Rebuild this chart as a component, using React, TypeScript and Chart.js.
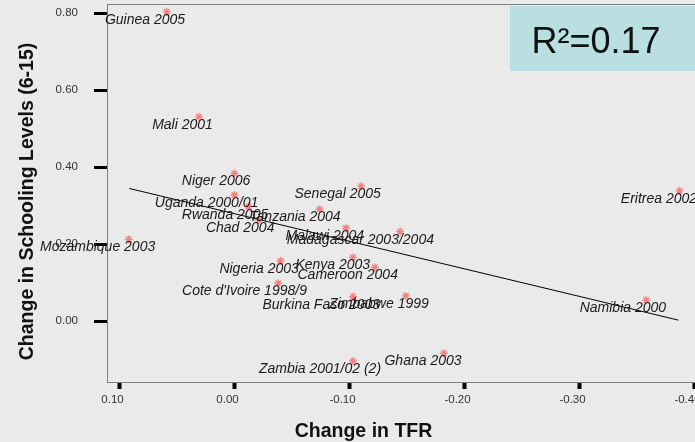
import React, { useEffect, useRef } from 'react';
import { Chart, registerables } from 'chart.js';

Chart.register(...registerables);

const countries = [
  'Guinea 2005', 'Mali 2001', 'Niger 2006', 'Uganda 2000/01', 'Rwanda 2005', 'Chad 2004',
  'Mozambique 2003', 'Senegal 2005', 'Tanzania 2004', 'Malawi 2004', 'Madagascar 2003/2004',
  'Nigeria 2003', 'Kenya 2003', 'Cameroon 2004', "Cote d'Ivoire 1998/9", 'Burkina Faso 2003',
  'Zimbabwe 1999', 'Eritrea 2002', 'Namibia 2000', 'Zambia 2001/02 (2)', 'Ghana 2003',
];
const tfrChange = [
  0.059, 0.031, 0.0, 0.0, -0.012, -0.021,
  0.092, -0.110, -0.074, -0.097, -0.144,
  -0.040, -0.103, -0.122, -0.038, -0.103,
  -0.149, -0.387, -0.358, -0.103, -0.182,
];
const schoolingChange = [
  0.804, 0.531, 0.384, 0.328, 0.298, 0.263,
  0.213, 0.351, 0.291, 0.242, 0.233,
  0.157, 0.166, 0.140, 0.099, 0.064,
  0.066, 0.339, 0.055, -0.103, -0.083,
];
const fitX = [0.0915, -0.386];
const fitY = [0.345, 0.003];
const xTicks = [0.1, 0.0, -0.1, -0.2, -0.3, -0.4];
const yTicks = [0.0, 0.2, 0.4, 0.6, 0.8];
const xTitle = 'Change in TFR';
const yTitle = 'Change in Schooling Levels (6-15)';
const rSquaredText = 'R\u00B2=0.17';

const FONT = '"Liberation Sans", Arial, sans-serif';
const fmt = (v: number) => {
  const s = Number(v).toFixed(2);
  return s === '-0.00' ? '0.00' : s;
};

const zeroPad = (s: any) => {
  s.paddingTop = 0;
  s.paddingBottom = 0;
  s.paddingLeft = 0;
  s.paddingRight = 0;
};

const decorPlugin = {
  id: 'decor',
  beforeDraw(chart: any) {
    const ctx = chart.ctx;
    ctx.save();
    ctx.fillStyle = '#eaeaea';
    ctx.fillRect(0, 0, chart.width, chart.height);
    ctx.restore();
  },
  afterDraw(chart: any) {
    const ctx = chart.ctx;
    const area = chart.chartArea;
    ctx.save();
    // top border of plot frame
    ctx.strokeStyle = '#808080';
    ctx.lineWidth = 1;
    ctx.beginPath();
    ctx.moveTo(area.left, area.top + 0.5);
    ctx.lineTo(area.right, area.top + 0.5);
    ctx.stroke();

    // point labels
    const meta = chart.getDatasetMeta(0);
    ctx.font = `italic 14px ${FONT}`;
    ctx.fillStyle = '#1a1a1a';
    ctx.textAlign = 'left';
    ctx.textBaseline = 'alphabetic';
    meta.data.forEach((el: any, i: number) => {
      const label = countries[i];
      const w = ctx.measureText(label).width;
      ctx.fillText(label, el.x - 0.77 * w, el.y + 12);
    });

    // x tick labels
    const xs = chart.scales.x;
    ctx.font = `11.5px ${FONT}`;
    ctx.fillStyle = '#333';
    ctx.textAlign = 'center';
    ctx.textBaseline = 'middle';
    xTicks.forEach((v) => {
      ctx.fillText(fmt(v), xs.getPixelForValue(v) - 7, 399.5);
    });

    // axis titles
    ctx.fillStyle = '#111';
    ctx.font = `bold 19.5px ${FONT}`;
    ctx.textAlign = 'center';
    ctx.textBaseline = 'alphabetic';
    ctx.fillText(xTitle, 363.5, 436.5);
    ctx.save();
    ctx.translate(32.5, 201.5);
    ctx.rotate(-Math.PI / 2);
    ctx.fillText(yTitle, 0, 0);
    ctx.restore();

    // R squared box
    ctx.fillStyle = '#b9dfe3';
    ctx.fillRect(510, 6, 260, 65);
    ctx.fillStyle = '#111';
    ctx.font = `36px ${FONT}`;
    ctx.textAlign = 'left';
    ctx.textBaseline = 'alphabetic';
    ctx.fillText(rSquaredText, 531.5, 52.5);
    ctx.restore();
  },
};

export default function App() {
  const canvasRef = useRef<HTMLCanvasElement | null>(null);

  useEffect(() => {
    if (!canvasRef.current) return;
    const chart = new Chart(canvasRef.current, {
      type: 'scatter',
      data: {
        datasets: [
          {
            data: tfrChange.map((x, i) => ({ x, y: schoolingChange[i] })),
            pointStyle: 'star',
            radius: 4,
            borderColor: 'rgba(245,120,120,0.95)',
            backgroundColor: 'rgba(245,120,120,0.95)',
            borderWidth: 1.3,
            clip: false,
          },
          {
            data: fitX.map((x, i) => ({ x, y: fitY[i] })),
            showLine: true,
            borderColor: '#000',
            borderWidth: 1,
            pointRadius: 0,
            fill: false,
          },
        ],
      } as any,
      options: {
        responsive: false,
        animation: false,
        events: [],
        layout: { autoPadding: false, padding: { left: 0, top: 4, right: 8, bottom: 0 } },
        plugins: { legend: { display: false }, tooltip: { enabled: false } },
        scales: {
          x: {
            type: 'linear',
            reverse: true,
            min: -0.45,
            max: 0.1109,
            afterBuildTicks: (s: any) => {
              s.ticks = xTicks.map((v) => ({ value: v }));
            },
            afterFit: (s: any) => {
              s.height = 60;
              zeroPad(s);
            },
            grid: {
              drawOnChartArea: false,
              drawTicks: true,
              tickLength: 7,
              tickWidth: 4,
              tickColor: '#000',
              color: '#000',
            },
            border: { color: '#808080', width: 1 },
            ticks: { display: false },
          },
          y: {
            type: 'linear',
            min: -0.1577,
            max: 0.8242,
            afterBuildTicks: (s: any) => {
              s.ticks = yTicks.map((v) => ({ value: v }));
            },
            afterFit: (s: any) => {
              s.width = 107;
              zeroPad(s);
            },
            grid: {
              drawOnChartArea: false,
              drawTicks: true,
              tickLength: 13,
              tickWidth: 3,
              tickColor: '#000',
              color: '#000',
            },
            border: { color: '#808080', width: 1 },
            ticks: {
              padding: 16,
              color: '#333',
              font: { family: FONT, size: 11.5 },
              callback: (v: any) => fmt(Number(v)),
            },
          },
        },
      } as any,
      plugins: [decorPlugin],
    });
    return () => chart.destroy();
  }, []);

  return (
    <div
      style={{
        position: 'absolute',
        left: 0,
        top: 0,
        width: 695,
        height: 442,
        overflow: 'hidden',
        background: '#eaeaea',
      }}
    >
      <canvas ref={canvasRef} width={760} height={442} style={{ display: 'block', width: 760, height: 442 }} />
    </div>
  );
}
